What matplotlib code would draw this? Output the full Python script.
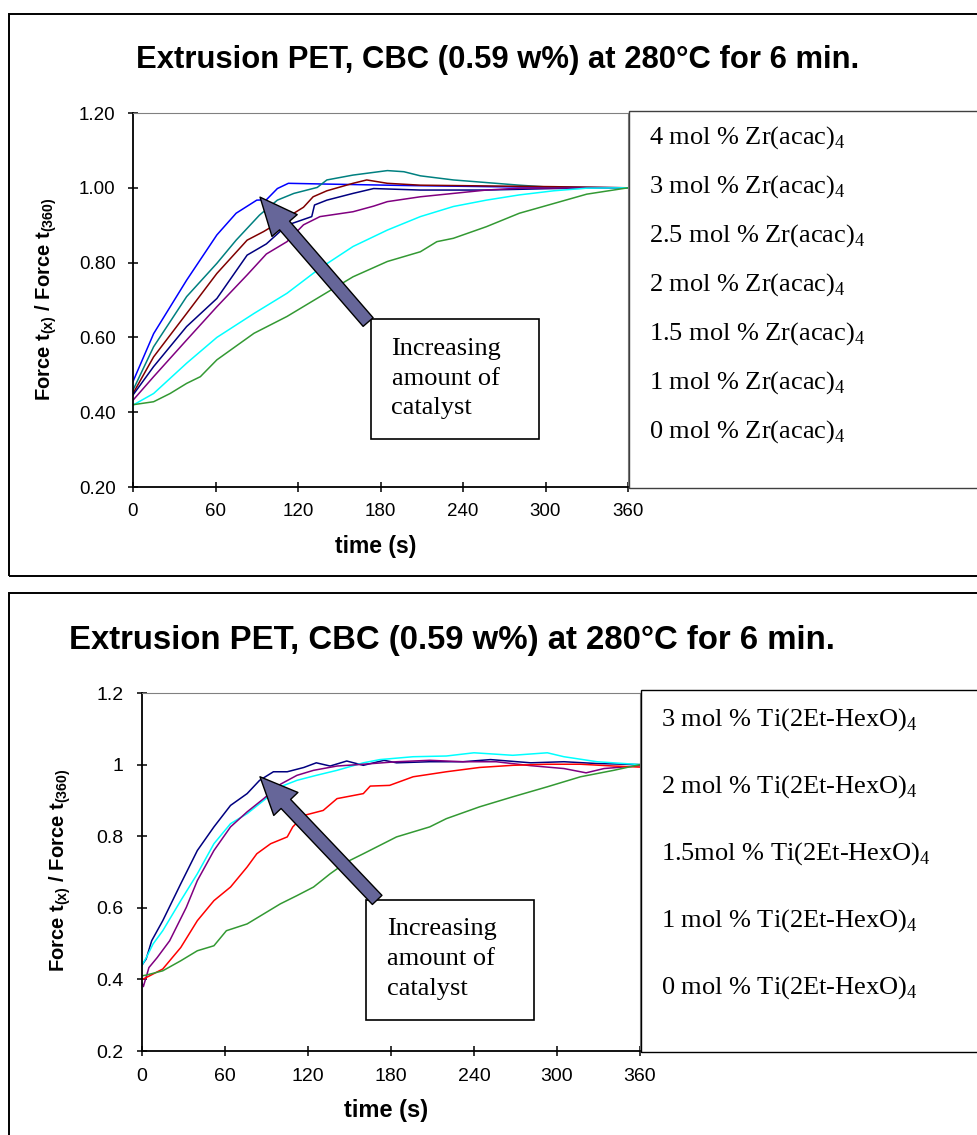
import matplotlib
matplotlib.use("Agg")
import matplotlib.pyplot as plt
from matplotlib.patches import Rectangle, FancyArrowPatch

plt.rcParams['font.family'] = ['Liberation Sans', 'DejaVu Sans']
plt.rcParams['mathtext.fontset'] = 'custom'
plt.rcParams['mathtext.rm'] = 'Liberation Serif'
plt.rcParams['mathtext.sf'] = 'Liberation Sans:bold'

W, H = 977, 1135

# ---- data: top panel, Zr(acac)4 ----
zr4_t = [0, 15, 39, 61, 75, 90, 97, 105, 113, 140, 200, 260, 320, 360]
zr4_y = [0.482, 0.61, 0.753, 0.874, 0.932, 0.967, 0.968, 0.998, 1.012, 1.010, 1.006, 1.003, 1.001, 1.0]
zr3_t = [0, 15, 39, 61, 75, 92, 105, 117, 134, 141, 160, 185, 197, 209, 233, 257, 281, 306, 360]
zr3_y = [0.459, 0.575, 0.709, 0.798, 0.860, 0.927, 0.967, 0.985, 1.001, 1.021, 1.034, 1.046, 1.043, 1.032, 1.021, 1.014, 1.007, 1.001, 1.0]
zr25_t = [0, 15, 39, 61, 83, 95, 105, 117, 124, 131, 141, 160, 170, 185, 209, 257, 306, 360]
zr25_y = [0.450, 0.548, 0.664, 0.771, 0.860, 0.883, 0.905, 0.932, 0.948, 0.976, 0.992, 1.012, 1.021, 1.012, 1.007, 1.005, 1.003, 1.0]
zr2_t = [0, 15, 39, 61, 83, 97, 112, 130, 132, 141, 160, 175, 209, 257, 306, 360]
zr2_y = [0.446, 0.522, 0.629, 0.704, 0.820, 0.850, 0.900, 0.923, 0.954, 0.967, 0.985, 0.998, 0.994, 0.994, 0.998, 1.0]
zr15_t = [0, 15, 39, 61, 83, 97, 112, 124, 136, 160, 175, 185, 209, 233, 257, 281, 360]
zr15_y = [0.432, 0.495, 0.593, 0.682, 0.767, 0.823, 0.856, 0.901, 0.923, 0.936, 0.951, 0.963, 0.976, 0.985, 0.994, 0.999, 1.0]
zr1_t = [0, 15, 39, 61, 88, 112, 136, 160, 185, 209, 233, 257, 281, 306, 330, 360]
zr1_y = [0.419, 0.450, 0.531, 0.600, 0.664, 0.718, 0.785, 0.843, 0.887, 0.923, 0.950, 0.967, 0.981, 0.992, 0.999, 1.0]
zr0_t = [0, 15, 27, 39, 49, 61, 88, 112, 136, 160, 185, 209, 221, 233, 257, 281, 306, 330, 360]
zr0_y = [0.420, 0.428, 0.450, 0.477, 0.495, 0.540, 0.611, 0.656, 0.709, 0.762, 0.803, 0.829, 0.856, 0.865, 0.896, 0.932, 0.958, 0.983, 1.0]

zr_labels = ["4 mol % Zr(acac)$_4$", "3 mol % Zr(acac)$_4$", "2.5 mol % Zr(acac)$_4$",
             "2 mol % Zr(acac)$_4$", "1.5 mol % Zr(acac)$_4$", "1 mol % Zr(acac)$_4$",
             "0 mol % Zr(acac)$_4$"]
zr_series = [(zr4_t, zr4_y), (zr3_t, zr3_y), (zr25_t, zr25_y), (zr2_t, zr2_y),
             (zr15_t, zr15_y), (zr1_t, zr1_y), (zr0_t, zr0_y)]
zr_colors = ['#0000FF', '#008080', '#800000', '#000080', '#800080', '#00FFFF', '#339933']

# ---- bottom panel, Ti(2Et-HexO)4 ----
ti3_t = [0, 3, 7, 15, 28, 40, 52, 64, 76, 85, 95, 105, 117, 126, 136, 148, 160, 175, 184, 208, 232, 252, 281, 305, 329, 360]
ti3_y = [0.44, 0.457, 0.508, 0.564, 0.667, 0.760, 0.826, 0.886, 0.919, 0.956, 0.980, 0.980, 0.992, 1.005, 0.996, 1.010, 0.998, 1.012, 1.005, 1.008, 1.008, 1.014, 1.005, 1.008, 1.003, 1.0]
ti2_t = [0, 3, 8, 15, 28, 40, 52, 64, 76, 88, 100, 112, 126, 141, 160, 172, 196, 220, 240, 268, 293, 305, 329, 360]
ti2_y = [0.44, 0.46, 0.499, 0.536, 0.620, 0.695, 0.779, 0.835, 0.863, 0.900, 0.938, 0.956, 0.970, 0.984, 1.005, 1.014, 1.022, 1.024, 1.033, 1.026, 1.033, 1.022, 1.008, 1.0]
ti15_t = [0, 1, 5, 11, 20, 32, 40, 52, 64, 76, 88, 100, 112, 124, 141, 160, 184, 208, 232, 256, 281, 305, 321, 334, 360]
ti15_y = [0.39, 0.38, 0.433, 0.461, 0.508, 0.601, 0.676, 0.760, 0.826, 0.868, 0.905, 0.945, 0.970, 0.984, 0.996, 1.001, 1.008, 1.012, 1.008, 1.008, 0.997, 0.989, 0.977, 0.989, 0.997]
ti1_t = [0, 3, 15, 28, 40, 52, 64, 76, 83, 93, 105, 109, 117, 131, 141, 160, 165, 179, 196, 220, 244, 268, 293, 317, 341, 360]
ti1_y = [0.40, 0.405, 0.429, 0.489, 0.564, 0.620, 0.658, 0.714, 0.751, 0.779, 0.798, 0.826, 0.858, 0.872, 0.905, 0.919, 0.940, 0.942, 0.966, 0.980, 0.992, 0.998, 1.001, 1.001, 0.996, 0.993]
ti0_t = [0, 3, 15, 28, 40, 52, 61, 76, 88, 100, 112, 124, 136, 148, 160, 184, 208, 220, 244, 268, 293, 317, 341, 360]
ti0_y = [0.41, 0.412, 0.424, 0.452, 0.480, 0.494, 0.536, 0.555, 0.583, 0.611, 0.634, 0.658, 0.695, 0.728, 0.751, 0.798, 0.826, 0.849, 0.882, 0.910, 0.938, 0.966, 0.984, 1.0]

ti_labels = ["3 mol % Ti(2Et-HexO)$_4$", "2 mol % Ti(2Et-HexO)$_4$", "1.5mol % Ti(2Et-HexO)$_4$",
             "1 mol % Ti(2Et-HexO)$_4$", "0 mol % Ti(2Et-HexO)$_4$"]
ti_series = [(ti3_t, ti3_y), (ti2_t, ti2_y), (ti15_t, ti15_y), (ti1_t, ti1_y), (ti0_t, ti0_y)]
ti_colors = ['#000080', '#00FFFF', '#800080', '#FF0000', '#339933']

x_ticks = [0, 60, 120, 180, 240, 300, 360]
y_ticks = [0.2, 0.4, 0.6, 0.8, 1.0, 1.2]
zr_ytick_labels = ["0.20", "0.40", "0.60", "0.80", "1.00", "1.20"]
ti_ytick_labels = ["0.2", "0.4", "0.6", "0.8", "1", "1.2"]

title = "Extrusion PET, CBC (0.59 w%) at 280\u00b0C for 6 min."
ylab = r"Force t$_{\mathsf{(x)}}$ / Force t$_{\mathsf{(360)}}$"
box_text = "Increasing\namount of\ncatalyst"


def fx(px):
    return px / W


def fy(py):
    return 1 - py / H


fig = plt.figure(figsize=(W / 100, H / 100), dpi=100)

# outer frames of the two pasted charts
fig.add_artist(Rectangle((fx(9), fy(576)), 1.2, fy(14) - fy(576), transform=fig.transFigure,
                         fill=False, lw=1.4, ec='black'))
fig.add_artist(Rectangle((fx(9), -0.2), 1.2, fy(593) + 0.2, transform=fig.transFigure,
                         fill=False, lw=1.4, ec='black'))


def panel(rect, series, colors, ytl, ticksize, pad_y, pad_x):
    ax = fig.add_axes(rect)
    for (t, y), c in zip(series, colors):
        ax.plot(t, y, color=c, lw=1.1)
    ax.set_xlim(0, 360)
    ax.set_ylim(0.2, 1.2)
    ax.set_xticks(x_ticks)
    ax.set_yticks(y_ticks)
    ax.set_yticklabels(ytl)
    for s in ['top', 'right']:
        ax.spines[s].set_color('#808080')
        ax.spines[s].set_linewidth(0.8)
    for s in ['left', 'bottom']:
        ax.spines[s].set_linewidth(1.3)
    ax.tick_params(axis='both', direction='inout', length=7, width=1.1, labelsize=ticksize)
    ax.tick_params(axis='y', pad=pad_y)
    ax.tick_params(axis='x', pad=pad_x)
    return ax


# ---- top panel ----
ax1 = panel([fx(133), fy(487), fx(628) - fx(133), fy(113) - fy(487)],
            zr_series, zr_colors, zr_ytick_labels, 13.5, 9, 8)
fig.text(fx(498), fy(60), title, ha='center', va='center', fontsize=22.3, fontweight='bold')
fig.text(fx(376), fy(546), "time (s)", ha='center', va='center', fontsize=16.5, fontweight='bold')
fig.text(fx(46), fy(299), ylab, rotation=90, ha='center', va='center', fontsize=14.5, fontweight='bold')
fig.add_artist(Rectangle((fx(629), fy(488)), 1, fy(111) - fy(488), transform=fig.transFigure,
                         fill=False, lw=1.0, ec='#404040'))
for i, lab in enumerate(zr_labels):
    fig.text(fx(649), fy(138 + 49 * i), lab, ha='left', va='center', fontsize=19,
             family='Liberation Serif')

ax1.add_patch(Rectangle((173, 0.329), 122, 0.32, fill=False, lw=1.2, ec='black', zorder=5))
ax1.text(188, 0.49, box_text, ha='left', va='center', fontsize=19, family='Liberation Serif',
         linespacing=1.45, zorder=6)
ax1.add_patch(FancyArrowPatch((171, 0.641), (92.4, 0.975),
                              arrowstyle='simple,head_length=27,head_width=24,tail_width=9.5',
                              mutation_scale=1, shrinkA=0, shrinkB=0,
                              fc='#666699', ec='black', lw=1.0, zorder=7))

# ---- bottom panel ----
ax2 = panel([fx(142), fy(1051), fx(640) - fx(142), fy(693) - fy(1051)],
            ti_series, ti_colors, ti_ytick_labels, 14, 10, 9)
fig.text(fx(452), fy(640), title, ha='center', va='center', fontsize=23.7, fontweight='bold')
fig.text(fx(386), fy(1110), "time (s)", ha='center', va='center', fontsize=17, fontweight='bold')
fig.text(fx(60), fy(870), ylab, rotation=90, ha='center', va='center', fontsize=14.5, fontweight='bold')
fig.add_artist(Rectangle((fx(641), fy(1052)), 1, fy(690) - fy(1052), transform=fig.transFigure,
                         fill=False, lw=1.0, ec='black'))
for i, lab in enumerate(ti_labels):
    fig.text(fx(661), fy(720 + 67 * i), lab, ha='left', va='center', fontsize=19,
             family='Liberation Serif')

ax2.add_patch(Rectangle((162, 0.287), 121.4, 0.335, fill=False, lw=1.2, ec='black', zorder=5))
ax2.text(177, 0.457, box_text, ha='left', va='center', fontsize=19, family='Liberation Serif',
         linespacing=1.45, zorder=6)
ax2.add_patch(FancyArrowPatch((170, 0.622), (85.3, 0.966),
                              arrowstyle='simple,head_length=27,head_width=24,tail_width=9.5',
                              mutation_scale=1, shrinkA=0, shrinkB=0,
                              fc='#666699', ec='black', lw=1.0, zorder=7))

fig.savefig("out.png", dpi=100)
